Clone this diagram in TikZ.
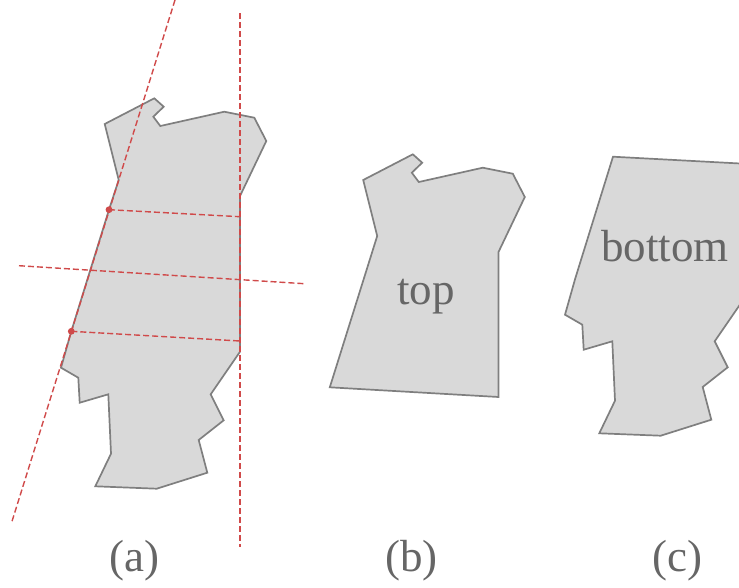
\documentclass[tikz,border=0pt]{standalone}
\usepackage{fontspec}
\setmainfont{Liberation Serif}
\definecolor{piecefill}{HTML}{D9D9D9}
\definecolor{piecedraw}{HTML}{7F7F7F}
\definecolor{cutred}{HTML}{D04A4A}
\definecolor{labelgray}{HTML}{666666}
\begin{document}
\begin{tikzpicture}[x=1pt,y=-1pt,
  piece/.style={fill=piecefill,draw=piecedraw,line width=1.7pt,line join=miter},
  cutline/.style={draw=cutred,line width=1.4pt,dash pattern=on 6pt off 3pt},
  cutdot/.style={fill=cutred},
  bigtext/.style={text=labelgray,font=\fontsize{45}{54}\selectfont,inner sep=0pt}]
\useasboundingbox (0,0) rectangle (739,587);
\clip (0,0) rectangle (739,587);
% (a) whole piece
\draw[piece] (104.7,124) -- (154.3,98.3) -- (163.7,106.7) -- (153.3,116.7) -- (160.3,126)
  -- (224.3,111.7) -- (254.3,117.7) -- (266.3,141) -- (240,196) -- (240,216.7) -- (240,341)
  -- (240,351.7) -- (210.7,394.3) -- (223.7,420.3) -- (198.7,440) -- (207.3,472.7)
  -- (156.7,488.7) -- (95.3,486.3) -- (111,453.7) -- (108.3,394.3) -- (79.7,402.7)
  -- (78.3,377.7) -- (61,367.7) -- (71.3,331.3) -- (109,209.7) -- (118.7,180) -- cycle;
% cut lines
\coordinate (slantTop) at (175,0);
\coordinate (slantBot) at (11.7,522.3);
\coordinate (vertTop) at (240,13);
\coordinate (vertBot) at (240,547);
\coordinate (horL) at (19,265.7);
\coordinate (horR) at (304.3,283.7);
\coordinate (dotA) at (109,209.7);
\coordinate (dotAr) at (240,216.7);
\coordinate (dotB) at (71.3,331.3);
\coordinate (dotBr) at (240,341);
\draw[cutline] (slantTop) -- (slantBot);
\draw[cutline] (vertTop) -- (vertBot);
\draw[cutline] (horL) -- (horR);
\draw[cutline] (dotA) -- (dotAr);
\draw[cutline] (dotB) -- (dotBr);
\fill[cutdot] (dotA) circle (3.4);
\fill[cutdot] (dotB) circle (3.4);
% (b) top piece
\begin{scope}[shift={(258.5,56)}]
\draw[piece] (104.7,124) -- (154.3,98.3) -- (163.7,106.7) -- (153.3,116.7) -- (160.3,126)
  -- (224.3,111.7) -- (254.3,117.7) -- (266.3,141) -- (240,196) -- (240,341)
  -- (71.3,331.3) -- (118.7,180) -- cycle;
\end{scope}
\node[bigtext] (toplabel) at (426,297) {top};
% (c) bottom piece
\begin{scope}[shift={(504,-53)}]
\draw[piece] (109,209.7) -- (240,216.7) -- (240,351.7) -- (210.7,394.3) -- (223.7,420.3)
  -- (198.7,440) -- (207.3,472.7) -- (156.7,488.7) -- (95.3,486.3) -- (111,453.7)
  -- (108.3,394.3) -- (79.7,402.7) -- (78.3,377.7) -- (61,367.7) -- (71.3,331.3) -- cycle;
\end{scope}
\node[bigtext] (bottomlabel) at (665,246) {bottom};
% captions
\node[bigtext] (capa) at (134.5,560.7) {(a)};
\node[bigtext] (capb) at (411.3,560.7) {(b)};
\node[bigtext] (capc) at (677.8,560.7) {(c)};
\end{tikzpicture}
\end{document}
